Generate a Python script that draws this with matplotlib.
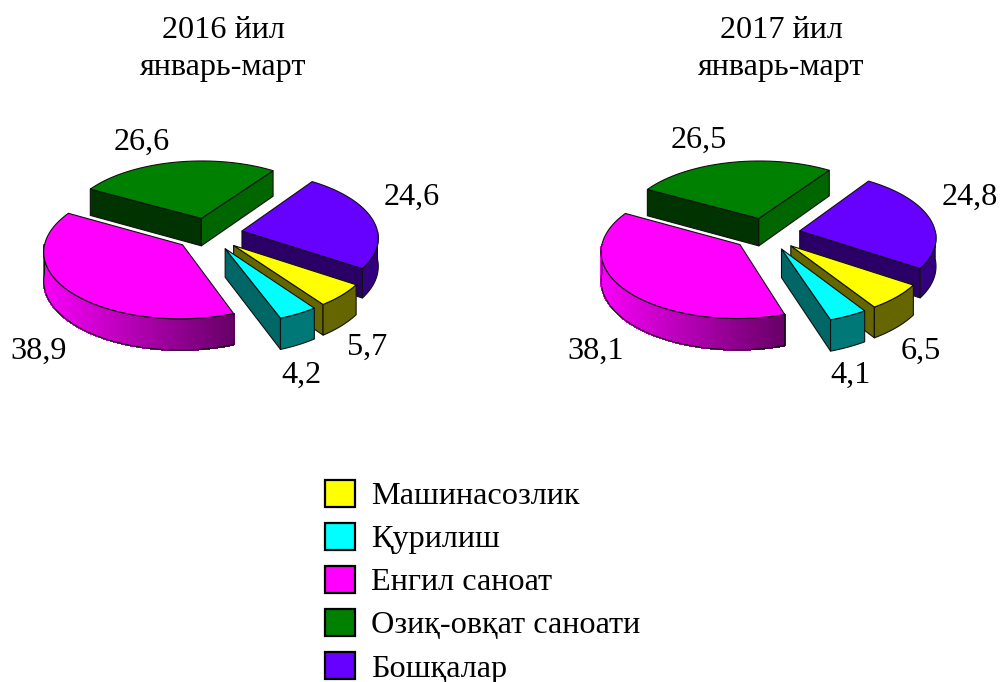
import numpy as np
import matplotlib
matplotlib.use("Agg")
import matplotlib.pyplot as plt
from matplotlib.colors import to_rgb
from matplotlib.patches import Patch, Polygon

plt.rcParams["font.family"] = ["Liberation Serif", "DejaVu Serif"]

categories = ["Машинасозлик", "Қурилиш", "Енгил саноат", "Озиқ-овқат саноати", "Бошқалар"]
values_2016 = [5.7, 4.2, 38.9, 26.6, 24.6]
values_2017 = [6.5, 4.1, 38.1, 26.5, 24.8]
labels_2016 = ["5,7", "4,2", "38,9", "26,6", "24,6"]
labels_2017 = ["6,5", "4,1", "38,1", "26,5", "24,8"]
title_line1 = ["2016 йил", "2017 йил"]
title_line2 = "январь-март"

colors = ["#ffff00", "#00ffff", "#ff00ff", "#008000", "#6600ff"]
# стенки: начальная, конечная, дуга
wall_colors = [
    ("#666600", "#666600", "#666600"),
    ("#006666", "#006666", "#007878"),
    ("#660066", "#660066", None),
    ("#003300", "#006600", "#006600"),
    ("#2b0066", "#2b0066", "#33007f"),
]

R = 136.0
SQUASH = 0.48
PERSP = 0.09
DEPTH = 28.0
EXPLODE = 34.0
START = 123.6
FS = 23.2


def project(x, y, cx, cy, down=0.0):
    w = 1 + PERSP * y / R
    return cx + x / w, cy + (-SQUASH * y + down) / w


def point(angle, r, ox, oy):
    a = np.radians(angle)
    return ox + r * np.sin(a), oy + r * np.cos(a)


def draw_pie(ax, values, cx, cy, start):
    spans = np.array(values) / sum(values) * 360.0
    angles = start + np.concatenate([[0], np.cumsum(spans)[:-1]])
    order = []
    for i, (a0, sp) in enumerate(zip(angles, spans)):
        ox, oy = point(a0 + sp / 2, EXPLODE, 0, 0)
        order.append((-oy, i))
    for _, i in sorted(order):
        a0, a1 = angles[i], angles[i] + spans[i]
        ox, oy = point((a0 + a1) / 2, EXPLODE, 0, 0)
        arc = np.linspace(a0, a1, 300)
        ax_, ay_ = point(arc, R, ox, oy)
        walls = wall_colors[i]

        # боковые стенки, только те что смотрят на нас
        for ang, face, col in ((a0, a0 - 90, walls[0]), (a1, a1 + 90, walls[1])):
            if np.cos(np.radians(face)) < 0:
                ex, ey = point(ang, R, ox, oy)
                quad = [project(ox, oy, cx, cy), project(ex, ey, cx, cy),
                        project(ex, ey, cx, cy, DEPTH), project(ox, oy, cx, cy, DEPTH)]
                ax.add_patch(Polygon(quad, fc=col, ec="#111111", lw=0.8, joinstyle="round"))

        # дуга
        front = arc[np.cos(np.radians(arc)) < 0]
        if len(front) > 1:
            fx, fy = point(front, R, ox, oy)
            if walls[2] is None:
                # градиент на пурпурном секторе
                xs = project(fx, fy, cx, cy)[0]
                c_left = np.array(to_rgb("#f800f8"))
                c_right = np.array(to_rgb("#660066"))
                for j in range(len(front) - 1):
                    t = (xs[j] - xs.min()) / (xs.max() - xs.min())
                    col = c_left + (c_right - c_left) * t
                    quad = [project(fx[j], fy[j], cx, cy), project(fx[j + 1], fy[j + 1], cx, cy),
                            project(fx[j + 1], fy[j + 1], cx, cy, DEPTH), project(fx[j], fy[j], cx, cy, DEPTH)]
                    ax.add_patch(Polygon(quad, fc=col, ec=col, lw=0.8, antialiased=False))
                col = "none"
            else:
                col = walls[2]
            top_x, top_y = project(fx, fy, cx, cy)
            bot_x, bot_y = project(fx, fy, cx, cy, DEPTH)
            outline = np.column_stack([np.r_[top_x, bot_x[::-1]], np.r_[top_y, bot_y[::-1]]])
            ax.add_patch(Polygon(outline, fc=col, ec="#111111", lw=0.8))

        # верх
        top_x, top_y = project(np.r_[ox, ax_], np.r_[oy, ay_], cx, cy)
        ax.add_patch(Polygon(np.column_stack([top_x, top_y]), fc=colors[i], ec="#111111", lw=0.8))


fig = plt.figure(figsize=(10, 6.82), dpi=100)
ax = fig.add_axes([0, 0, 1, 1])
ax.set_xlim(0, 1000)
ax.set_ylim(682, 0)
ax.axis("off")

draw_pie(ax, values_2016, 208.7, 234, START)
draw_pie(ax, values_2017, 766.5, 234, START)

label_pos_2016 = [(367, 347), (301, 375), (39, 351), (142, 142), (412, 197)]
label_pos_2017 = [(921, 351), (851, 375), (596, 351), (699, 140), (970, 197)]
for text, pos in zip(labels_2016 + labels_2017, label_pos_2016 + label_pos_2017):
    ax.text(pos[0], pos[1], text, fontsize=FS, ha="center", va="center", color="black")

for x, t in zip((223, 781), title_line1):
    ax.text(x, 30, t, fontsize=FS, ha="center", va="center", color="black")
    ax.text(x, 68, title_line2, fontsize=FS, ha="center", va="center", color="black")

handles = [Patch(fc=c, ec="black", lw=1.6) for c in colors]
fig.legend(handles, categories, loc="upper left", bbox_to_anchor=(0.325, 1 - 479.5 / 682),
           frameon=False, fontsize=FS, handlelength=0.93, handleheight=0.93,
           handletextpad=0.5, labelspacing=0.35, borderpad=0, borderaxespad=0)

fig.savefig("out.png", dpi=100)
